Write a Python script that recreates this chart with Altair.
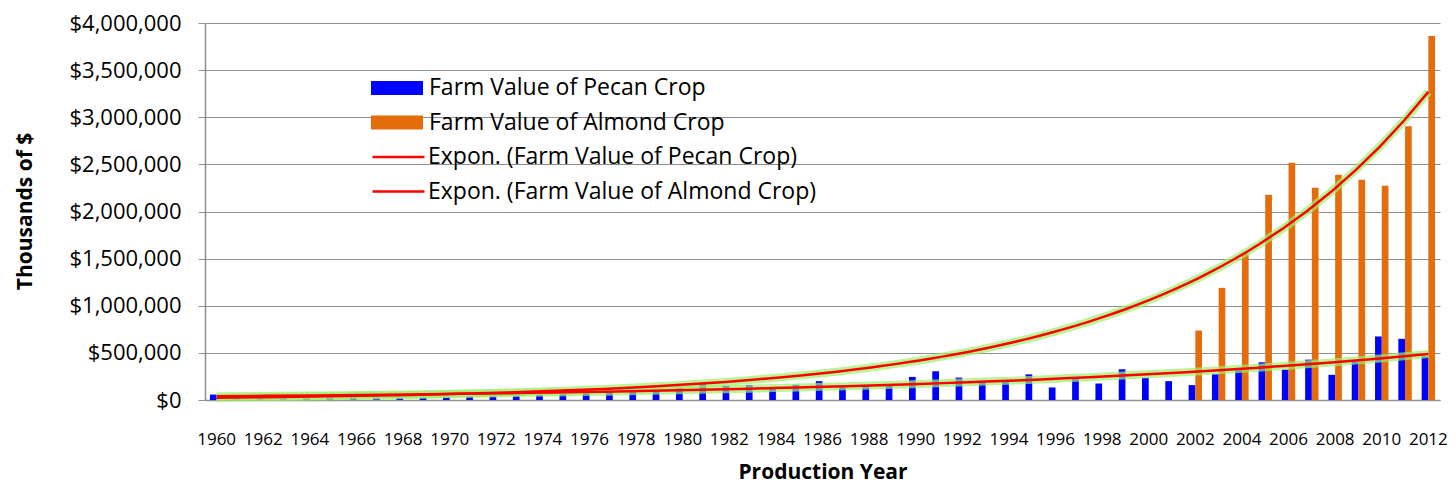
import altair as alt
import pandas as pd

# ---------------- data (thousands of $) ----------------
years = list(range(1960, 2013))

pecan_values = [
    58000, 30000, 35000, 30000, 38000, 35000, 33000, 30000, 30000, 33000,   # 1960-69
    36000, 42000, 46000, 50000, 58000, 62000, 72000, 88000, 88000, 103000,  # 1970-79
    135000, 178000, 150000, 160000, 125000, 162000, 200000, 133000, 147000, 158000,  # 1980-89
    245000, 305000, 238000, 193000, 203000, 272000, 133000, 228000, 175000, 326000,  # 1990-99
    235000, 200000, 158000, 274000, 316000, 400000, 323000, 428000, 267000, 404000,  # 2000-09
    674000, 649000, 463000,                                                          # 2010-12
]

almond_years = [2002, 2003, 2004, 2005, 2006, 2007, 2008, 2009, 2010, 2011, 2012]
almond_values = [737000, 1190000, 1558000, 2179000, 2516000, 2253000,
                 2389000, 2337000, 2274000, 2905000, 3863000]

# trend-line values
pecan_trend_years = [1960, 1970, 1980, 1988, 1992, 2000, 2005, 2012]
pecan_trend_values = [40000, 64000, 104000, 152000, 195000, 262000, 350000, 490000]
almond_trend_years = [1960, 1970, 1977, 1984, 1987, 1992, 1996, 1999, 2002, 2004, 2008, 2012]
almond_trend_values = [26000, 62000, 115000, 240000, 320000, 490000, 720000,
                       965000, 1280000, 1550000, 2250000, 3260000]

x_tick_labels = [1960, 1962, 1964, 1966, 1968, 1970, 1972, 1974, 1976, 1978,
                 1980, 1982, 1984, 1986, 1988, 1990, 1992, 1994, 1996, 1998,
                 2000, 2002, 2004, 2006, 2008, 2010, 2012]
y_tick_values = [0, 500000, 1000000, 1500000, 2000000, 2500000, 3000000, 3500000, 4000000]

PECAN = "Farm Value of Pecan Crop"
ALMOND = "Farm Value of Almond Crop"
T_PECAN = "Expon. (Farm Value of Pecan Crop)"
T_ALMOND = "Expon. (Farm Value of Almond Crop)"

bar_df = pd.DataFrame(
    [{"year": y, "series": PECAN, "value": v} for y, v in zip(years, pecan_values)]
    + [{"year": y, "series": ALMOND, "value": v} for y, v in zip(almond_years, almond_values)]
)
trend_df = pd.DataFrame(
    [{"year": y, "trend": T_PECAN, "value": v} for y, v in zip(pecan_trend_years, pecan_trend_values)]
    + [{"year": y, "trend": T_ALMOND, "value": v} for y, v in zip(almond_trend_years, almond_trend_values)]
)

FONT = "Open Sans"
GRID = "#8f8f8f"

y_enc = alt.Y(
    "value:Q",
    scale=alt.Scale(domain=[0, 4000000], nice=False),
    axis=alt.Axis(
        values=y_tick_values, format="$,.0f", title="Thousands of $",
        labelFont=FONT, labelFontSize=22, labelColor="black",
        tickSize=7, tickColor=GRID, labelPadding=17,
        domainColor=GRID, domainWidth=1.5,
        grid=True, gridColor=GRID, gridWidth=1.2,
        titleFont=FONT, titleFontSize=21, titleFontWeight="bold", titleColor="black",
        titleX=-180, titleY=188, titleBaseline="middle", titleAlign="center", titleAngle=-90,
    ),
)

bars = alt.Chart(bar_df).mark_bar().encode(
    x=alt.X(
        "year:O",
        scale=alt.Scale(paddingInner=0.425, paddingOuter=0.2125),
        axis=alt.Axis(
            values=x_tick_labels, labelAngle=0, ticks=False, labelPadding=31,
            labelFont=FONT, labelFontSize=17, labelColor="black",
            domainColor=GRID, domainWidth=1.5, grid=False,
            title="Production Year", titleFont=FONT, titleFontSize=21,
            titleFontWeight="bold", titleColor="black",
            titleY=72, titleBaseline="middle",
        ),
    ),
    xOffset=alt.XOffset("series:N", scale=alt.Scale(domain=[PECAN, ALMOND])),
    y=y_enc,
    color=alt.Color(
        "series:N",
        scale=alt.Scale(domain=[PECAN, ALMOND], range=["#0000ff", "#e46c0a"]),
        legend=alt.Legend(
            title=None, orient="none", legendX=166, legendY=50, padding=0,
            symbolType="M-1,-0.27H1V0.27H-1Z", symbolSize=2704, symbolStrokeWidth=0,
            symbolOpacity=1, clipHeight=30, rowPadding=4.5, labelOffset=6,
            labelFont=FONT, labelFontSize=23, labelColor="black", labelLimit=600,
        ),
    ),
)

x_line = alt.X("year:Q", scale=alt.Scale(domain=[1959.5, 2012.5], nice=False, zero=False), axis=None)

trend_base = alt.Chart(trend_df).transform_regression(
    "year", "value", groupby=["trend"], method="exp", extent=[1960, 2012]
)

glow = trend_base.mark_line(color="#9cf06a", strokeWidth=8, opacity=0.7).encode(
    x=x_line, y=y_enc, detail="trend:N"
)

red = trend_base.mark_line(strokeWidth=2.5).encode(
    x=x_line,
    y=y_enc,
    stroke=alt.Stroke(
        "trend:N",
        scale=alt.Scale(domain=[T_PECAN, T_ALMOND], range=["#ff0000", "#ff0000"]),
        legend=alt.Legend(
            title=None, orient="none", legendX=166, legendY=119, padding=0,
            symbolType="stroke", symbolSize=2704, symbolStrokeWidth=2.5,
            clipHeight=30, rowPadding=4.5, labelOffset=2,
            labelFont=FONT, labelFontSize=23, labelColor="black", labelLimit=600,
        ),
    ),
)

chart = (
    alt.layer(bars, glow, red)
    .resolve_scale(x="independent")
    .properties(
        width=1235, height=377,
        autosize=alt.AutoSizeParams(type="none"),
        padding={"left": 197, "top": 15, "right": 8, "bottom": 87},
        background="white",
    )
    .configure_view(stroke=None)
)

chart.save("out.html", embed_options={"renderer": "svg", "actions": False})
